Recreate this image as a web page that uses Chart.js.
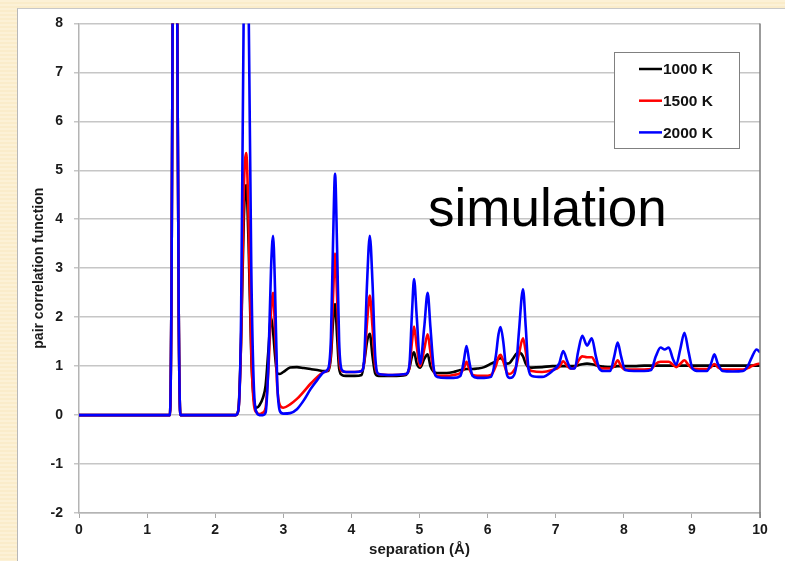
<!DOCTYPE html>
<html>
<head>
<meta charset="utf-8">
<script src="https://cdn.jsdelivr.net/npm/chart.js@4.4.0/dist/chart.umd.min.js"></script>
<style>
  html, body { margin: 0; padding: 0; }
  body {
    width: 785px; height: 561px; overflow: hidden; position: relative;
    background: repeating-linear-gradient(180deg, #fcf1d6 0px, #fcf1d6 2px, #faecca 2px, #faecca 4px);
  }
  #panel {
    position: absolute; left: 17px; top: 8px; width: 780px; height: 560px;
    background: #fff; border-left: 1px solid #b8b8b8; border-top: 1px solid #c8c8c8;
  }
  #chart { position: absolute; left: 0; top: -5px; }
</style>
</head>
<body>
<div id="panel"><canvas id="chart" width="768" height="558"></canvas></div>
<script>
// Separation values (Å) shared by all three curves
const separation = [
  0.00, 1.30, 1.335, 1.36, 1.38, 1.41, 1.44, 1.465, 1.49,
  2.30, 2.34, 2.38, 2.42, 2.455, 2.49, 2.53, 2.57, 2.61, 2.65, 2.70, 2.74, 2.78,
  2.82, 2.85, 2.88, 2.91, 2.95, 3.00, 3.10, 3.20, 3.30, 3.40, 3.50, 3.60, 3.66,
  3.70, 3.73, 3.76, 3.79, 3.82, 3.86, 3.92, 4.05, 4.15, 4.19, 4.23, 4.27, 4.31,
  4.35, 4.40, 4.60, 4.80, 4.85, 4.89, 4.92, 4.96, 5.01, 5.07, 5.12, 5.16, 5.21,
  5.26, 5.40, 5.50, 5.60, 5.65, 5.69, 5.73, 5.78, 5.85, 5.95, 6.05, 6.12, 6.16,
  6.19, 6.23, 6.28, 6.32, 6.37, 6.42, 6.46, 6.52, 6.56, 6.60, 6.65, 6.80, 6.95,
  7.05, 7.11, 7.17, 7.22, 7.28, 7.33, 7.39, 7.46, 7.53, 7.59, 7.64, 7.70, 7.80,
  7.86, 7.91, 7.96, 8.02, 8.15, 8.30, 8.40, 8.47, 8.54, 8.60, 8.66, 8.72, 8.77,
  8.83, 8.89, 8.95, 9.01, 9.10, 9.22, 9.28, 9.33, 9.38, 9.45, 9.60, 9.75, 9.82,
  9.88, 9.95, 10.00
];

const g1000K = [
  0, 0, 0, 3, 10, 18, 9, 2, 0,
  0, 0.1, 1.5, 4.0, 4.7, 3.5, 1.2, 0.3, 0.15, 0.2, 0.35, 0.6, 1.3,
  2.0, 1.7, 1.2, 0.85, 0.84, 0.88, 0.97, 0.98, 0.96, 0.94, 0.92, 0.90, 0.90,
  1.2, 1.9, 2.27, 1.6, 0.95, 0.82, 0.80, 0.80, 0.82, 1.1, 1.5, 1.66, 1.2,
  0.85, 0.80, 0.80, 0.82, 0.95, 1.2, 1.28, 1.05, 0.97, 1.15, 1.24, 1.0, 0.88,
  0.86, 0.86, 0.88, 0.92, 0.93, 0.94, 0.94, 0.94, 0.95, 0.98, 1.05, 1.10, 1.15,
  1.16, 1.12, 1.05, 1.06, 1.15, 1.25, 1.28, 1.20, 1.05, 0.98, 0.97, 0.98, 1.0,
  1.0, 1.0, 1.0, 1.0, 1.0, 1.02, 1.04, 1.05, 1.04, 1.02, 1.0, 0.99, 0.98,
  0.99, 1.0, 1.0, 1.0, 1.0, 1.01, 1.01, 1.01, 1.01, 1.01, 1.01, 1.01, 1.01,
  1.01, 1.01, 1.01, 1.01, 1.01, 1.01, 1.01, 1.01, 1.01, 1.01, 1.01, 1.01, 1.01,
  1.01, 1.01, 1.01
];

const g1500K = [
  0, 0, 0, 3, 10, 18, 9, 2, 0,
  0, 0.1, 1.5, 4.6, 5.35, 4.0, 1.3, 0.2, 0.05, 0.02, 0.05, 0.15, 0.9,
  2.1, 2.5, 1.7, 0.6, 0.2, 0.15, 0.22, 0.33, 0.48, 0.64, 0.78, 0.88, 0.92,
  1.3, 2.4, 3.3, 2.4, 1.2, 0.9, 0.88, 0.88, 0.90, 1.1, 1.9, 2.44, 1.8,
  1.0, 0.84, 0.82, 0.84, 0.95, 1.5, 1.81, 1.4, 1.0, 1.35, 1.65, 1.3, 0.9,
  0.80, 0.80, 0.82, 0.86, 0.95, 1.09, 0.95, 0.82, 0.80, 0.80, 0.82, 1.00, 1.18,
  1.23, 1.10, 0.88, 0.84, 0.88, 1.0, 1.25, 1.57, 1.3, 0.95, 0.90, 0.88, 0.92,
  0.98, 1.10, 1.00, 0.95, 0.97, 1.10, 1.20, 1.18, 1.18, 1.05, 0.97, 0.95, 0.95,
  1.0, 1.12, 1.0, 0.93, 0.93, 0.93, 0.94, 1.05, 1.09, 1.09, 1.09, 1.03, 0.98,
  1.05, 1.12, 1.02, 0.95, 0.94, 0.94, 0.98, 1.04, 0.98, 0.93, 0.93, 0.93, 0.96,
  1.00, 1.04, 1.05
];

const g2000K = [
  0, 0, 0, 3, 10, 18, 9, 2, 0,
  0, 0.1, 2.0, 8.5, 12, 8.5, 3.0, 0.5, 0.05, 0.0, 0.0, 0.05, 1.0,
  3.0, 3.66, 2.5, 0.7, 0.08, 0.03, 0.04, 0.12, 0.30, 0.53, 0.72, 0.88, 0.95,
  1.6, 3.5, 4.93, 3.4, 1.5, 0.92, 0.88, 0.88, 0.90, 1.2, 2.7, 3.66, 2.7,
  1.2, 0.84, 0.82, 0.84, 1.0, 2.1, 2.78, 2.0, 1.05, 1.8, 2.5, 1.8, 0.95,
  0.78, 0.76, 0.76, 0.80, 1.1, 1.41, 1.1, 0.80, 0.76, 0.76, 0.78, 1.20, 1.65,
  1.80, 1.50, 0.85, 0.76, 0.78, 1.0, 1.7, 2.57, 1.8, 0.95, 0.80, 0.78, 0.90,
  1.05, 1.31, 1.10, 0.95, 0.95, 1.30, 1.62, 1.42, 1.57, 1.20, 0.95, 0.90, 0.90,
  1.2, 1.48, 1.2, 0.92, 0.90, 0.90, 0.92, 1.2, 1.38, 1.34, 1.38, 1.15, 1.03,
  1.35, 1.68, 1.30, 0.95, 0.90, 0.90, 1.05, 1.24, 1.05, 0.90, 0.89, 0.90, 1.00,
  1.18, 1.34, 1.28
];

const seriesLabels = ['1000 K', '1500 K', '2000 K'];
const seriesColors = ['#000000', '#ff0000', '#0000ff'];
const xTicks = [0, 1, 2, 3, 4, 5, 6, 7, 8, 9, 10];
const yTicks = [-2, -1, 0, 1, 2, 3, 4, 5, 6, 7, 8];

function toPoints(ys) {
  return separation.map((x, i) => ({ x: x, y: ys[i] }));
}

// legend box, "simulation" label and right border
const extras = {
  id: 'extras',
  afterDraw(chart) {
    const ctx = chart.ctx;
    const area = chart.chartArea;
    ctx.save();
    ctx.strokeStyle = '#7a7a7a';
    ctx.lineWidth = 1.5;
    ctx.beginPath();
    ctx.moveTo(area.right, area.top);
    ctx.lineTo(area.right, area.bottom + 5);
    ctx.stroke();

    ctx.fillStyle = '#000';
    ctx.font = '53px Arial, "Liberation Sans", sans-serif';
    ctx.textBaseline = 'alphabetic';
    ctx.fillText('simulation', 410, 222);

    const bx = 596, by = 48, bw = 125, bh = 96;
    ctx.fillStyle = '#fff';
    ctx.fillRect(bx, by, bw, bh);
    ctx.strokeStyle = '#808080';
    ctx.lineWidth = 1;
    ctx.strokeRect(bx + 0.5, by + 0.5, bw, bh);
    ctx.font = 'bold 15.5px Arial, "Liberation Sans", sans-serif';
    ctx.textBaseline = 'middle';
    chart.data.datasets.forEach((ds, i) => {
      const y = by + 17 + i * 31.7;
      ctx.strokeStyle = ds.borderColor;
      ctx.lineWidth = 2.5;
      ctx.beginPath();
      ctx.moveTo(bx + 25, y);
      ctx.lineTo(bx + 48, y);
      ctx.stroke();
      ctx.fillStyle = '#111';
      ctx.fillText(ds.label, bx + 49, y + 1);
    });
    ctx.restore();
  }
};

new Chart(document.getElementById('chart'), {
  type: 'line',
  data: {
    datasets: [g1000K, g1500K, g2000K].map((ys, i) => ({
      label: seriesLabels[i],
      data: toPoints(ys),
      borderColor: seriesColors[i],
      borderWidth: 2.6,
      pointRadius: 0,
      fill: false,
      cubicInterpolationMode: 'monotone',
      order: 3 - i
    }))
  },
  options: {
    responsive: false,
    animation: false,
    layout: { padding: { top: 8, right: 26, left: 0, bottom: 0 } },
    plugins: { legend: { display: false }, tooltip: { enabled: false } },
    scales: {
      x: {
        type: 'linear', min: 0, max: 10,
        afterBuildTicks: s => { s.ticks = xTicks.map(v => ({ value: v })); },
        afterFit: s => { s.height = 49; },
        grid: { drawOnChartArea: false, drawTicks: true, tickLength: 5, color: '#a8a8a8' },
        border: { color: '#b4b4b4', width: 1.5 },
        ticks: { color: '#1a1a1a', padding: 4, font: { family: 'Arial, "Liberation Sans", sans-serif', size: 14, weight: 'bold' } },
        title: { display: true, text: 'separation (Å)', color: '#1a1a1a', padding: { top: 0, bottom: 3 },
                 font: { family: 'Arial, "Liberation Sans", sans-serif', size: 15, weight: 'bold' } }
      },
      y: {
        min: -2, max: 8,
        afterBuildTicks: s => { s.ticks = yTicks.map(v => ({ value: v })); },
        afterFit: s => { s.width = 61; },
        grid: { color: '#c6c6c6', lineWidth: 1.5, tickLength: 5 },
        border: { color: '#b4b4b4', width: 1.5 },
        ticks: { color: '#1a1a1a', padding: 11, font: { family: 'Arial, "Liberation Sans", sans-serif', size: 14, weight: 'bold' } },
        title: { display: true, text: 'pair correlation function', color: '#1a1a1a', padding: { top: 13, bottom: 0 },
                 font: { family: 'Arial, "Liberation Sans", sans-serif', size: 14, weight: 'bold' } }
      }
    }
  },
  plugins: [extras]
});
</script>
</body>
</html>
